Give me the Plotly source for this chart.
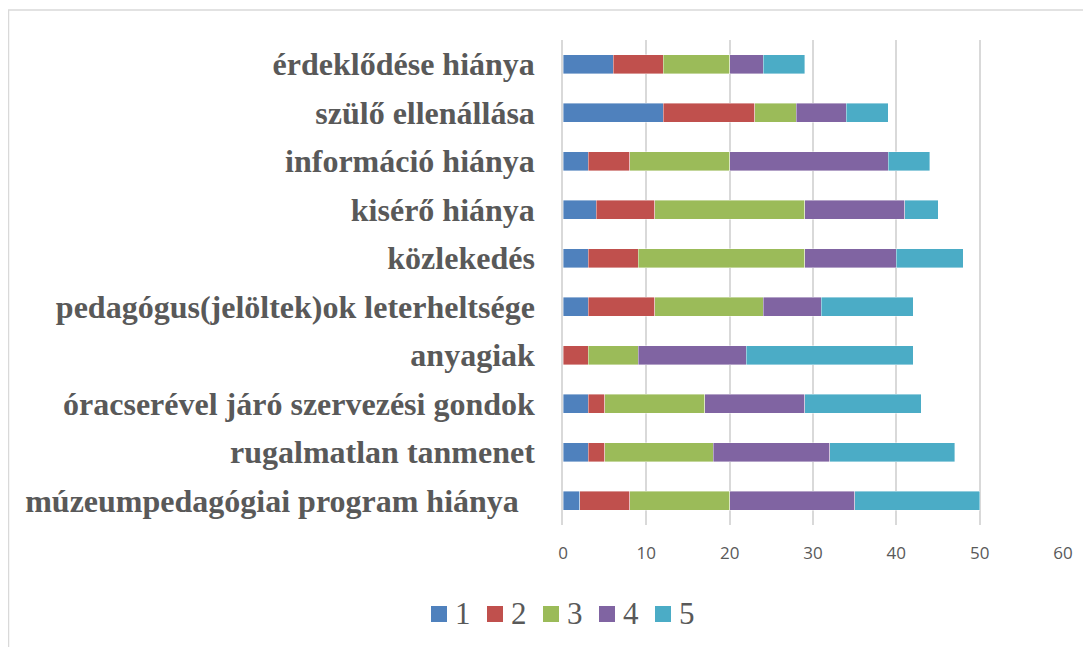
import plotly.graph_objects as go

categories = [
    "érdeklődése hiánya",
    "szülő ellenállása",
    "információ hiánya",
    "kisérő hiánya",
    "közlekedés",
    "pedagógus(jelöltek)ok leterheltsége",
    "anyagiak",
    "óracserével járó szervezési gondok",
    "rugalmatlan tanmenet",
    "múzeumpedagógiai program hiánya  ",
]
series_names = ["1", "2", "3", "4", "5"]
s1 = [6, 12, 3, 4, 3, 3, 0, 3, 3, 2]
s2 = [6, 11, 5, 7, 6, 8, 3, 2, 2, 6]
s3 = [8, 5, 12, 18, 20, 13, 6, 12, 13, 12]
s4 = [4, 6, 19, 12, 11, 7, 13, 12, 14, 15]
s5 = [5, 5, 5, 4, 8, 11, 20, 14, 15, 15]
colors = ["#4F81BD", "#C0504D", "#9BBB59", "#8064A2", "#4BACC6"]
tick_vals = [0, 10, 20, 30, 40, 50, 60]

W, H = 1091, 647
L, R, T, B = 555, 36, 32, 130
PW, PH = W - L - R, H - T - B


def px_x(x):
    return (x - 8 - L) / PW


def px_y(y):
    return (T + PH - (y - 8)) / PH


fig = go.Figure()
for name, vals, col in zip(series_names, [s1, s2, s3, s4, s5], colors):
    fig.add_trace(go.Bar(
        y=categories, x=vals, name=name, orientation="h",
        marker=dict(color=col, line=dict(color="rgba(255,255,255,0.5)", width=0.8)),
        showlegend=False,
    ))

shapes = [
    dict(type="line", xref="paper", yref="paper", x0=px_x(0), x1=px_x(1200),
         y0=px_y(10), y1=px_y(10), line=dict(color="#D9D9D9", width=1.5)),
    dict(type="line", xref="paper", yref="paper", x0=px_x(8.5), x1=px_x(8.5),
         y0=px_y(700), y1=px_y(10), line=dict(color="#D9D9D9", width=1.5)),
]
annotations = []
leg_x0, pitch = 431, 56
for i, (name, col) in enumerate(zip(series_names, colors)):
    x = leg_x0 + i * pitch
    shapes.append(dict(type="rect", xref="paper", yref="paper",
                       x0=px_x(x), x1=px_x(x + 16), y0=px_y(622), y1=px_y(606),
                       fillcolor=col, line=dict(width=0)))
    annotations.append(dict(xref="paper", yref="paper", x=px_x(x + 22), y=px_y(613),
                            xanchor="left", yanchor="middle", text=name, showarrow=False,
                            font=dict(family="Liberation Serif", size=31, color="#595959")))

fig.update_layout(
    barmode="stack",
    bargap=0.6,
    width=W, height=H,
    margin=dict(l=L, r=R, t=T, b=B, autoexpand=False),
    paper_bgcolor="white",
    plot_bgcolor="white",
    font=dict(family="Liberation Serif", color="#595959"),
    showlegend=False,
    xaxis=dict(
        range=[0, 60], tickvals=tick_vals, showgrid=True,
        gridcolor="#D9D9D9", gridwidth=1.5, zeroline=False,
        showline=False, ticks="", ticklabelstandoff=16,
        tickfont=dict(family="Open Sans", size=17, color="#595959"),
    ),
    yaxis=dict(
        autorange="reversed", showgrid=False, showline=True,
        linecolor="#D9D9D9", linewidth=1.5, ticks="",
        ticklabelstandoff=20,
        tickfont=dict(family="Liberation Serif", size=32, color="#595959", weight="bold"),
    ),
    shapes=shapes,
    annotations=annotations,
)
fig.update_xaxes(automargin=False)
fig.update_yaxes(automargin=False)

fig.write_html("out.html")
